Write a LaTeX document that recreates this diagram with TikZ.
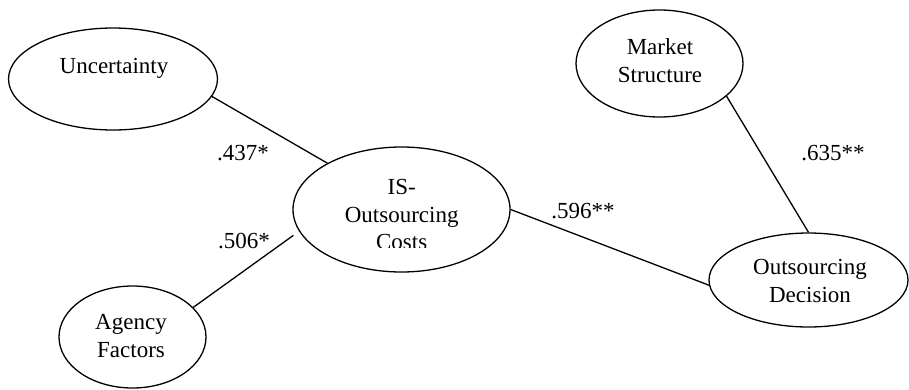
\documentclass[tikz,border=0pt]{standalone}
\usepackage{fontspec}
\setmainfont{Liberation Serif}
\usetikzlibrary{shapes.geometric}
\begin{document}
\begin{tikzpicture}[x=1pt,y=-1pt,
  construct/.style={draw, ellipse, line width=1.3pt, inner sep=0pt},
  caption/.style={anchor=base, align=center, inner sep=0pt,
    font=\fontsize{23}{27.5}\selectfont},
  coef/.style={anchor=base, inner sep=0pt, font=\fontsize{23}{27.5}\selectfont},
  path/.style={line width=1.3pt}]
\useasboundingbox (0,0) rectangle (909,389);

% latent constructs
\node[construct, minimum width=209pt, minimum height=102pt] (unc) at (113,79) {};
\node[construct, minimum width=217pt, minimum height=125pt] (is)  at (401.5,209.5) {};
\node[construct, minimum width=147pt, minimum height=102pt] (agf) at (132.5,337) {};
\node[construct, minimum width=167pt, minimum height=107pt] (mkt) at (659.5,63.5) {};
\node[construct, minimum width=199pt, minimum height=94pt]  (dec) at (808.5,280) {};

% construct names (placed by the baseline of their last line)
\node[caption] (uncT) at (114,73) {Uncertainty};
\begin{scope}
  % the text frame of this construct cuts off the foot of its last line
  \clip (300,150) rectangle (505,247.3);
  \node[caption] (isT) at (401.7,249.5) {IS-\\Outsourcing\\Costs};
\end{scope}
\node[caption] (agfT) at (131,357) {Agency\\Factors};
\node[caption] (mktT) at (660,82) {Market\\Structure};
\node[caption] (decT) at (810,302) {Outsourcing\\Decision};

% structural paths
\draw[path] (unc.-10.4) -- (is.148.7);
\draw[path, shorten >=7pt] (agf.26.4) -- (is.192);
\draw[path] (is.east) -- (dec.183);
\draw[path] (mkt.-26.4) -- (dec.90);

% path coefficients
\node[coef] (c1) at (243,160) {.437*};
\node[coef] (c2) at (244,248) {.506*};
\node[coef] (c3) at (583,218) {.596**};
\node[coef] (c4) at (833,160) {.635**};
\end{tikzpicture}
\end{document}
